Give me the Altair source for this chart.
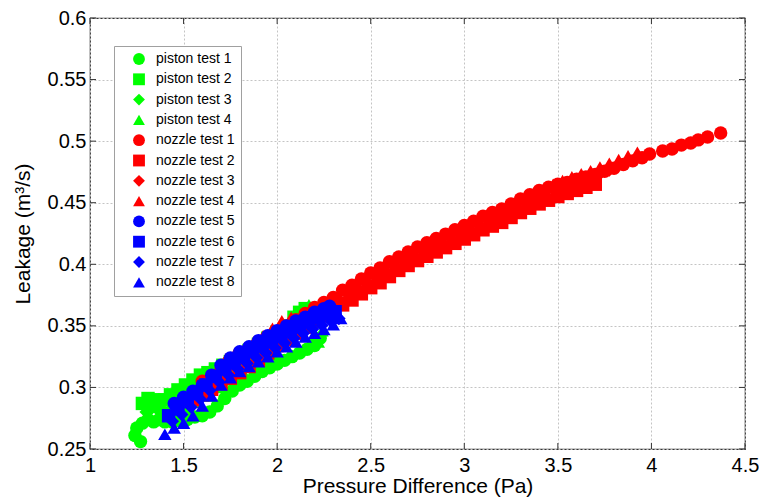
import altair as alt
import pandas as pd

series_names = ["piston test 1", "piston test 2", "piston test 3", "piston test 4",
                "nozzle test 1", "nozzle test 2", "nozzle test 3", "nozzle test 4",
                "nozzle test 5", "nozzle test 6", "nozzle test 7", "nozzle test 8"]
series_colors = ["#00ff00"] * 4 + ["#ff0000"] * 4 + ["#0000ff"] * 4
series_shapes = ["circle", "square", "diamond", "triangle-up"] * 3

x_ticks = [1, 1.5, 2, 2.5, 3, 3.5, 4, 4.5]
y_ticks = [0.25, 0.3, 0.35, 0.4, 0.45, 0.5, 0.55, 0.6]

# piston tests (green)
p1_x = [1.27, 1.24, 1.25, 1.28, 1.31, 1.34, 1.37, 1.40, 1.44, 1.48, 1.52, 1.56, 1.60, 1.64, 1.68,
        1.72, 1.76, 1.80, 1.84, 1.88, 1.92, 1.96, 2.00, 2.04, 2.08, 2.12, 2.16, 2.20, 2.23]
p1_y = [0.256, 0.261, 0.267, 0.271, 0.274, 0.272, 0.274, 0.272, 0.272, 0.273, 0.274, 0.276, 0.277,
        0.280, 0.285, 0.291, 0.297, 0.302, 0.305, 0.309, 0.313, 0.316, 0.319, 0.322, 0.325, 0.328,
        0.331, 0.334, 0.340]
p2_x = [1.28, 1.31, 1.34, 1.37, 1.40, 1.43, 1.47, 1.51, 1.55, 1.59, 1.63, 1.67, 1.71, 1.75, 1.80,
        1.85, 1.90, 1.95, 2.00, 2.05, 2.09, 2.12, 2.15]
p2_y = [0.287, 0.291, 0.290, 0.287, 0.290, 0.294, 0.298, 0.302, 0.306, 0.310, 0.312, 0.315, 0.318,
        0.321, 0.325, 0.330, 0.335, 0.340, 0.345, 0.350, 0.357, 0.361, 0.364]
p3_x = [1.30, 1.33, 1.36, 1.39, 1.42, 1.46, 1.50, 1.55, 1.60, 1.65, 1.70, 1.75, 1.80, 1.85, 1.90,
        1.95, 2.00, 2.05, 2.10, 2.15, 2.20]
p3_y = [0.280, 0.283, 0.282, 0.280, 0.281, 0.283, 0.285, 0.290, 0.296, 0.302, 0.308, 0.313, 0.318,
        0.322, 0.327, 0.331, 0.336, 0.340, 0.344, 0.348, 0.351]
p4_x = [1.45, 1.52, 1.58, 1.64, 1.70, 1.76, 1.82, 1.88, 1.94, 2.00, 2.06, 2.10, 2.14, 2.17, 2.19,
        2.22, 2.24]
p4_y = [0.278, 0.283, 0.288, 0.293, 0.300, 0.306, 0.312, 0.317, 0.322, 0.328, 0.352, 0.358, 0.362,
        0.367, 0.340, 0.337, 0.346]

# nozzle tests 1-4 (red)
n1_x = [1.60, 1.65, 1.70, 1.75, 1.80, 1.85, 1.90, 1.95, 2.00, 2.05, 2.10, 2.15, 2.20, 2.25, 2.30,
        2.35, 2.40, 2.45, 2.50, 2.55, 2.60, 2.65, 2.70, 2.75, 2.80, 2.85, 2.90, 2.95, 3.00, 3.05,
        3.10, 3.15, 3.20, 3.25, 3.30, 3.35, 3.40, 3.45, 3.50, 3.55, 3.60, 3.65, 3.70, 3.75, 3.80,
        3.85, 3.90, 3.95, 3.99, 4.06, 4.11, 4.16, 4.21, 4.25, 4.30, 4.37]
n1_y = [0.305, 0.3095, 0.314, 0.3185, 0.323, 0.328, 0.333, 0.339, 0.345, 0.350, 0.355, 0.360,
        0.365, 0.369, 0.373, 0.379, 0.383, 0.388, 0.393, 0.397, 0.402, 0.406, 0.410, 0.414, 0.4175,
        0.421, 0.4245, 0.428, 0.4315, 0.435, 0.439, 0.442, 0.445, 0.449, 0.453, 0.4565, 0.460,
        0.4625, 0.465, 0.4665, 0.469, 0.471, 0.473, 0.4755, 0.478, 0.481, 0.484, 0.4865, 0.4895,
        0.492, 0.4936, 0.4968, 0.4985, 0.501, 0.5033, 0.5066]
n2_x = [1.55, 1.60, 1.65, 1.70, 1.75, 1.80, 1.85, 1.90, 1.95, 2.00, 2.05, 2.10, 2.15, 2.20, 2.25,
        2.30, 2.35, 2.40, 2.45, 2.50, 2.55, 2.60, 2.65, 2.70, 2.75, 2.80, 2.85, 2.90, 2.95, 3.00,
        3.05, 3.10, 3.15, 3.20, 3.25, 3.30, 3.35, 3.40, 3.45, 3.50, 3.55, 3.60, 3.65, 3.70]
n2_y = [0.290, 0.294, 0.2985, 0.303, 0.3075, 0.312, 0.317, 0.322, 0.328, 0.334, 0.339, 0.344, 0.349,
        0.354, 0.358, 0.362, 0.367, 0.371, 0.376, 0.381, 0.385, 0.390, 0.395, 0.399, 0.403, 0.4065,
        0.410, 0.4135, 0.417, 0.4205, 0.424, 0.428, 0.431, 0.434, 0.438, 0.442, 0.4455, 0.449,
        0.452, 0.455, 0.4575, 0.460, 0.4625, 0.465]
n3_x = [1.625, 1.675, 1.725, 1.775, 1.825, 1.875, 1.925, 1.975, 2.025, 2.075, 2.125, 2.175, 2.225,
        2.275, 2.325, 2.375, 2.425, 2.475, 2.525, 2.575, 2.625, 2.675, 2.725, 2.775, 2.825, 2.875,
        2.925, 2.975, 3.025, 3.075, 3.125, 3.175, 3.225, 3.275, 3.325, 3.375, 3.425, 3.475, 3.525,
        3.575, 3.625, 3.675, 3.725, 3.775]
n3_y = [0.303, 0.308, 0.312, 0.317, 0.3215, 0.3265, 0.332, 0.338, 0.3435, 0.3485, 0.3535, 0.3585,
        0.363, 0.367, 0.372, 0.377, 0.3815, 0.3865, 0.391, 0.3955, 0.400, 0.404, 0.408, 0.412,
        0.415, 0.419, 0.422, 0.426, 0.429, 0.433, 0.4365, 0.4395, 0.443, 0.447, 0.451, 0.454,
        0.4575, 0.4605, 0.463, 0.466, 0.468, 0.471, 0.4735, 0.4765]
n4_x = [1.725, 1.775, 1.825, 1.875, 1.925, 1.975, 2.025, 2.075, 2.125, 2.175, 2.225, 2.275, 2.325,
        2.375, 2.425, 2.475, 2.525, 2.575, 2.625, 2.675, 2.725, 2.775, 2.825, 2.875, 2.925, 2.975,
        3.025, 3.075, 3.125, 3.175, 3.225, 3.275, 3.325, 3.375, 3.425, 3.475, 3.525, 3.575, 3.625,
        3.675, 3.725, 3.775, 3.825, 3.875, 3.925]
n4_y = [0.323, 0.328, 0.332, 0.337, 0.342, 0.348, 0.354, 0.357, 0.3515, 0.3565, 0.361, 0.365,
        0.370, 0.375, 0.3795, 0.3845, 0.389, 0.3935, 0.398, 0.402, 0.406, 0.410, 0.413, 0.417,
        0.420, 0.424, 0.427, 0.431, 0.4345, 0.4375, 0.441, 0.445, 0.449, 0.452, 0.4555, 0.465,
        0.468, 0.471, 0.4735, 0.476, 0.479, 0.482, 0.485, 0.488, 0.491]

# nozzle tests 5-8 (blue)
n5_x = [1.45, 1.50, 1.55, 1.60, 1.65, 1.70, 1.75, 1.80, 1.85, 1.90, 1.95, 2.00, 2.05, 2.10, 2.15,
        2.20, 2.25, 2.28]
n5_y = [0.287, 0.292, 0.297, 0.302, 0.310, 0.318, 0.324, 0.329, 0.333, 0.338, 0.342, 0.346, 0.350,
        0.354, 0.357, 0.361, 0.364, 0.366]
n6_x = [1.42, 1.47, 1.52, 1.57, 1.62, 1.67, 1.72, 1.77, 1.82, 1.87, 1.92, 1.97, 2.02, 2.07, 2.12,
        2.17, 2.22, 2.27, 2.31]
n6_y = [0.277, 0.2825, 0.2885, 0.295, 0.302, 0.309, 0.315, 0.320, 0.325, 0.3295, 0.3335, 0.3375,
        0.3415, 0.3455, 0.3495, 0.353, 0.3565, 0.3595, 0.3615]
n7_x = [1.44, 1.49, 1.54, 1.59, 1.64, 1.69, 1.74, 1.79, 1.84, 1.89, 1.94, 1.99, 2.04, 2.09, 2.14,
        2.19, 2.24, 2.29, 2.33]
n7_y = [0.2725, 0.278, 0.284, 0.2905, 0.2975, 0.3045, 0.310, 0.315, 0.3195, 0.324, 0.328, 0.332,
        0.336, 0.340, 0.344, 0.3475, 0.3505, 0.3535, 0.356]
n8_x = [1.40, 1.45, 1.50, 1.55, 1.60, 1.65, 1.70, 1.75, 1.80, 1.85, 1.90, 1.95, 2.00, 2.05, 2.10,
        2.15, 2.20, 2.25, 2.30, 2.34]
n8_y = [0.262, 0.267, 0.271, 0.277, 0.285, 0.293, 0.302, 0.308, 0.313, 0.317, 0.321, 0.325, 0.329,
        0.333, 0.337, 0.341, 0.344, 0.347, 0.351, 0.356]

all_x = [p1_x, p2_x, p3_x, p4_x, n1_x, n2_x, n3_x, n4_x, n5_x, n6_x, n7_x, n8_x]
all_y = [p1_y, p2_y, p3_y, p4_y, n1_y, n2_y, n3_y, n4_y, n5_y, n6_y, n7_y, n8_y]

rows = []
k = 0
for name, xs, ys in zip(series_names, all_x, all_y):
    for xv, yv in zip(xs, ys):
        rows.append({"series": name, "x": xv, "y": yv, "idx": k})
        k += 1
df = pd.DataFrame(rows)

W, H = 655, 431
FONT = "Liberation Sans"

xscale = alt.Scale(domain=[1, 4.5], nice=False, zero=False)
yscale = alt.Scale(domain=[0.25, 0.6], nice=False, zero=False)

points = alt.Chart(df).mark_point(filled=True, opacity=1, size=180, strokeWidth=0).encode(
    x=alt.X("x:Q", scale=xscale,
            axis=alt.Axis(values=x_ticks, format="~g", grid=True, gridColor="#c4c4c4",
                          gridDash=[2, 2], domain=False, ticks=False, labelFont=FONT,
                          labelFontSize=20, labelColor="black", labelPadding=6, labelFlush=False,
                          title="Pressure Difference (Pa)", titleFont=FONT, titleFontSize=21,
                          titleFontWeight="normal", titleColor="black", titlePadding=0)),
    y=alt.Y("y:Q", scale=yscale,
            axis=alt.Axis(values=y_ticks, format="~g", grid=True, gridColor="#c4c4c4",
                          gridDash=[2, 2], domain=False, ticks=False, labelFont=FONT,
                          labelFontSize=20, labelColor="black", labelPadding=4, labelFlush=False,
                          title="Leakage (m³/s)", titleFont=FONT, titleFontSize=21,
                          titleFontWeight="normal", titleColor="black", titlePadding=14)),
    color=alt.Color("series:N", title=None,
                    scale=alt.Scale(domain=series_names, range=series_colors),
                    legend=alt.Legend(orient="none", legendX=24, legendY=28, direction="vertical",
                                      fillColor="white", strokeColor="#a0a0a0", padding=6,
                                      symbolSize=140, symbolStrokeWidth=0, symbolOffset=12,
                                      labelOffset=10, labelFont=FONT, labelFontSize=14,
                                      labelColor="black", rowPadding=6.3)),
    shape=alt.Shape("series:N", title=None,
                    scale=alt.Scale(domain=series_names, range=series_shapes)),
    order=alt.Order("idx:Q"),
)

tick_x = pd.DataFrame({"t": x_ticks})
tick_y = pd.DataFrame({"t": y_ticks})
tcol = "#333333"
bt = alt.Chart(tick_x).mark_rule(color=tcol, strokeWidth=1).encode(
    x=alt.X("t:Q", scale=xscale), y=alt.value(H), y2=alt.value(H - 6))
tt = alt.Chart(tick_x).mark_rule(color=tcol, strokeWidth=1).encode(
    x=alt.X("t:Q", scale=xscale), y=alt.value(0), y2=alt.value(6))
lt = alt.Chart(tick_y).mark_rule(color=tcol, strokeWidth=1).encode(
    y=alt.Y("t:Q", scale=yscale), x=alt.value(0), x2=alt.value(6))
rt = alt.Chart(tick_y).mark_rule(color=tcol, strokeWidth=1).encode(
    y=alt.Y("t:Q", scale=yscale), x=alt.value(W), x2=alt.value(W - 6))

chart = alt.layer(points, bt, tt, lt, rt).properties(
    width=W, height=H,
    autosize=alt.AutoSizeParams(type="none"),
    padding={"left": 90, "top": 18, "right": 14, "bottom": 48},
    background="white",
).configure_view(stroke=tcol, strokeWidth=1.2)

chart.save("out.html", embed_options={"renderer": "svg", "actions": False})
